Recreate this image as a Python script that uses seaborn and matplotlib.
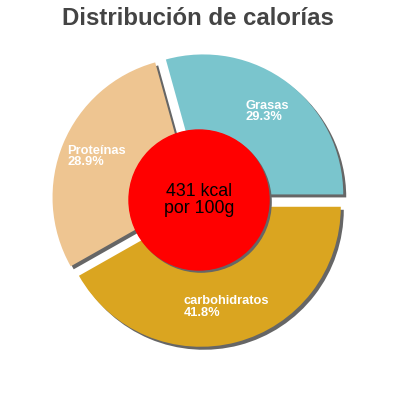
import matplotlib
matplotlib.use('Agg')
import matplotlib.pyplot as plt
import seaborn as sns

# data
nutrients = ['Grasas', 'Proteínas', 'carbohidratos']
percents = [29.3, 28.9, 41.8]
slice_colors = ['#7ac5cd', '#eec591', '#daa520']
kcal = 431
title = 'Distribución de calorías'

# label anchors (axes data units, pie radius = 1)
label_pos = [(0.329, 0.631), (-0.941, 0.309), (-0.112, -0.764)]

sns.set_theme(style='white')
plt.rcParams['font.family'] = ['Liberation Sans', 'DejaVu Sans']

fig = plt.figure(figsize=(4, 4), dpi=100)
ax = fig.add_axes([0, 0, 1, 1])

explode = [0.05] * len(percents)
sh = 3 / 140  # shadow offset, ~3px

# shadow first, then the slices on top
ax.pie(percents, explode=explode, colors=['#666666'] * 3, startangle=0,
       counterclock=True, radius=1, center=(sh, -sh),
       wedgeprops={'linewidth': 0})
ax.pie(percents, explode=explode, colors=slice_colors, startangle=0,
       counterclock=True, radius=1, center=(0, 0),
       wedgeprops={'linewidth': 0})

# center disc with its own shadow
ax.add_patch(plt.Circle((sh * 0.7, -sh * 0.7), 0.5, color='#666666', zorder=3))
ax.add_patch(plt.Circle((0, 0), 0.5, color='#ff0000', zorder=4))
ax.text(0, 0, f'{kcal} kcal\npor 100g', ha='center', va='center',
        fontsize=12.8, color='black', linespacing=0.95, zorder=5)

for name, pct, (x, y) in zip(nutrients, percents, label_pos):
    ax.text(x, y, f'{name}\n{pct}%', ha='left', va='center', color='white',
            fontsize=9.3, fontweight='bold', linespacing=0.9, zorder=5)

ax.set_xlim(-199 / 140, 201 / 140)
ax.set_ylim(-200 / 140, 200 / 140)
ax.set_aspect('auto')
ax.axis('off')

fig.text(0.495, 1 - 25 / 400, title, ha='center', va='baseline',
         fontsize=17.3, fontweight='bold', color='#444444')

fig.savefig('out.png', dpi=100)
